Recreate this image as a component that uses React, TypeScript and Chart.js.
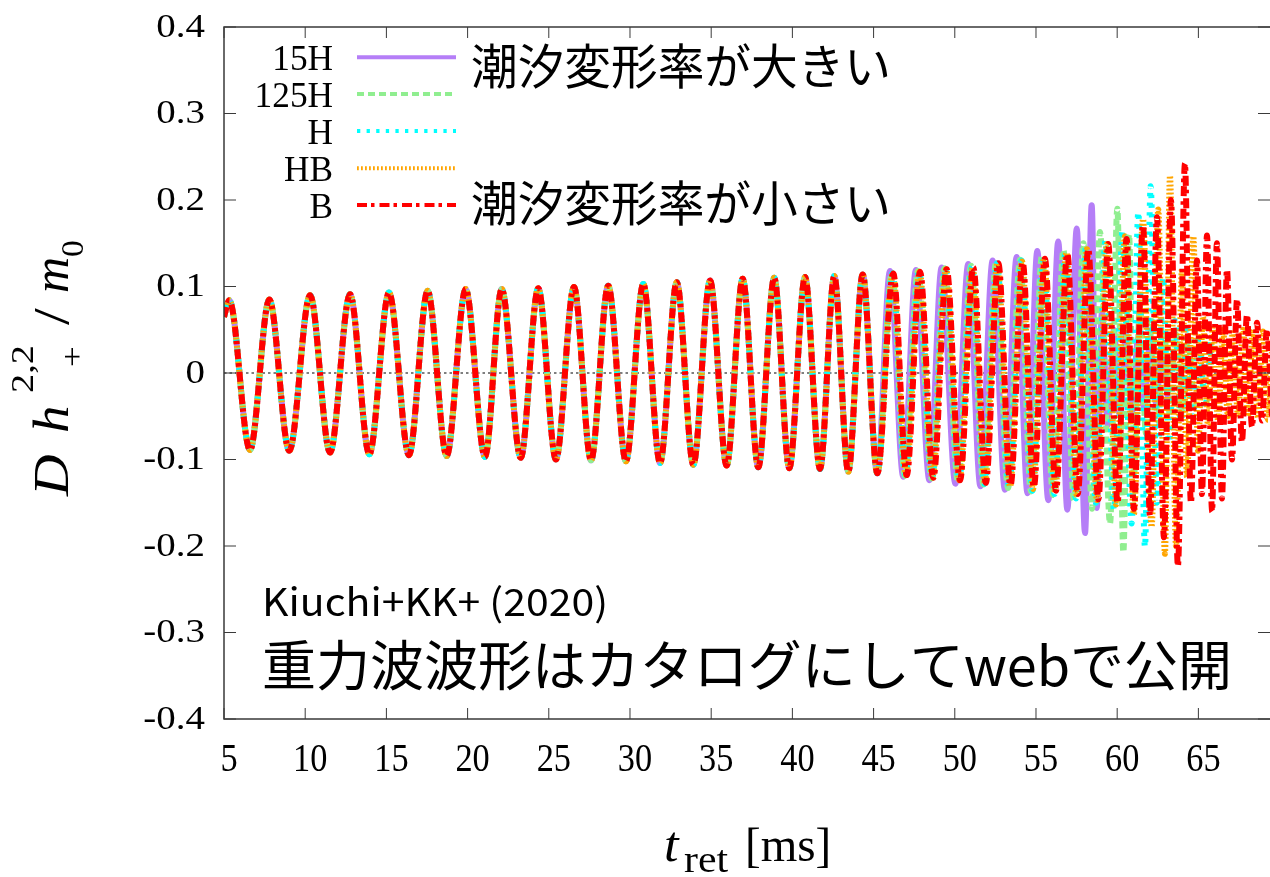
import React, { useEffect, useRef } from "react";
import { Chart, registerables } from "chart.js";

Chart.register(...registerables);

// Retarded time [ms] and strain of each extremum during the common inspiral (all models overlap)
const inspiralT = [5.0, 5.33, 6.6, 7.79, 9.02, 10.3, 11.53, 12.76, 13.95, 15.16, 16.39, 17.54, 18.71, 19.88, 21.07, 22.1, 23.27, 24.35, 25.44, 26.55, 27.6, 28.66, 29.75, 30.82, 31.85, 32.88, 33.9, 34.93, 35.95, 36.94, 37.9, 38.88, 39.81, 40.78, 41.7, 42.58, 43.44, 44.33, 45.23];
const inspiralH = [0.065, 0.084, -0.089, 0.085, -0.09, 0.09, -0.092, 0.091, -0.094, 0.093, -0.095, 0.095, -0.096, 0.097, -0.097, 0.097, -0.098, 0.098, -0.1, 0.0995, -0.101, 0.101, -0.102, 0.103, -0.104, 0.105, -0.106, 0.107, -0.107, 0.109, -0.109, 0.11, -0.11, 0.111, -0.111, 0.112, -0.114, 0.114, -0.116];

// Late inspiral, merger and post-merger extrema of each model
const tail15HT = [46.01, 46.83, 47.61, 48.44, 49.19, 50.04, 50.83, 51.58, 52.33, 53.09, 53.81, 54.48, 55.08, 55.76, 56.37, 56.93, 57.51, 58.02, 58.43, 58.74, 59.06, 59.43, 59.8, 60.17, 60.54, 60.91, 61.28, 61.65, 62.02, 62.39, 62.76, 63.13];
const tail15HH = [0.118, -0.12, 0.119, -0.124, 0.122, -0.128, 0.126, -0.131, 0.13, -0.135, 0.134, -0.139, 0.141, -0.147, 0.152, -0.158, 0.167, -0.185, 0.194, -0.156, 0.07, -0.06, 0.05, -0.05, 0.045, -0.045, 0.04, -0.04, 0.035, -0.035, 0.03, -0.03];

const tail125HT = [46.13, 46.93, 47.73, 48.57, 49.37, 50.2, 51.0, 51.77, 52.54, 53.28, 54.02, 54.69, 55.37, 56.05, 56.69, 57.34, 57.92, 58.45, 58.94, 59.56, 60.01, 60.38, 60.73, 61.03, 61.4, 61.77, 62.14, 62.51, 62.88, 63.25, 63.62, 63.99, 64.36, 64.73];
const tail125HH = [0.116, -0.119, 0.118, -0.122, 0.121, -0.126, 0.124, -0.129, 0.128, -0.133, 0.131, -0.137, 0.136, -0.141, 0.142, -0.147, 0.15, -0.157, 0.163, -0.174, 0.19, -0.207, 0.16, -0.12, 0.08, -0.07, 0.06, -0.055, 0.05, -0.05, 0.045, -0.045, 0.04, -0.04];

const tailHT = [46.16, 46.96, 47.8, 48.6, 49.43, 50.26, 51.06, 51.83, 52.6, 53.34, 54.11, 54.78, 55.46, 56.14, 56.82, 57.46, 58.08, 58.69, 59.28, 59.8, 60.33, 60.89, 61.3, 61.71, 62.06, 62.45, 62.82, 63.19, 63.56, 63.93, 64.3, 64.67, 65.04, 65.41, 65.78];
const tailHH = [0.115, -0.118, 0.117, -0.121, 0.12, -0.125, 0.123, -0.128, 0.127, -0.132, 0.13, -0.136, 0.134, -0.14, 0.14, -0.145, 0.145, -0.15, 0.153, -0.158, 0.165, -0.174, 0.186, -0.201, 0.216, -0.15, 0.11, -0.08, 0.06, -0.055, 0.05, -0.05, 0.045, -0.04, 0.04];

const tailHBT = [46.19, 47.0, 47.83, 48.63, 49.46, 50.29, 51.09, 51.86, 52.63, 53.4, 54.14, 54.82, 55.49, 56.17, 56.87, 57.52, 58.14, 58.76, 59.37, 59.93, 60.48, 61.03, 61.59, 62.12, 62.53, 62.94, 63.25, 63.62, 63.99, 64.3, 64.69, 64.98, 65.28, 65.59, 65.9, 66.21, 66.52, 66.82, 67.13, 67.44, 67.75, 68.05, 68.36, 68.67, 68.98, 69.29, 69.59];
const tailHBH = [0.115, -0.118, 0.117, -0.121, 0.12, -0.124, 0.122, -0.127, 0.127, -0.131, 0.129, -0.134, 0.133, -0.138, 0.139, -0.142, 0.143, -0.147, 0.149, -0.152, 0.158, -0.163, 0.178, -0.178, 0.189, -0.209, 0.228, -0.2, 0.12, -0.12, 0.158, -0.09, 0.065, -0.06, 0.055, -0.055, 0.05, -0.05, 0.05, -0.05, 0.05, -0.05, 0.05, -0.052, 0.048, -0.054, 0.05];

const tailBT = [46.21, 47.04, 47.86, 48.68, 49.5, 50.32, 51.14, 51.91, 52.68, 53.43, 54.18, 54.87, 55.55, 56.23, 56.93, 57.57, 58.22, 58.84, 59.45, 60.02, 60.58, 61.03, 61.59, 62.02, 62.45, 62.88, 63.31, 63.74, 64.17, 64.54, 64.91, 65.22, 65.53, 65.84, 66.14, 66.45, 66.76, 67.07, 67.38, 67.68, 67.99, 68.3, 68.61, 68.92, 69.22, 69.53];
const tailBH = [0.115, -0.118, 0.117, -0.121, 0.12, -0.124, 0.122, -0.127, 0.127, -0.13, 0.128, -0.132, 0.132, -0.136, 0.138, -0.14, 0.143, -0.146, 0.149, -0.15, 0.155, -0.157, 0.171, -0.165, 0.18, -0.19, 0.2, -0.223, 0.242, -0.15, 0.13, -0.14, 0.159, -0.16, 0.15, -0.145, 0.12, -0.1, 0.085, -0.08, 0.067, -0.062, 0.058, -0.055, 0.05, -0.05];

const seriesNames = ["15H", "125H", "H", "HB", "B"];
const seriesColors = ["rgb(181,126,247)", "rgb(144,238,144)", "rgb(0,255,255)", "rgb(255,165,0)", "rgb(255,0,0)"];
const seriesDashes: number[][] = [[], [7, 4], [3.3, 6.3], [1.8, 2.2], [10, 4, 3.5, 5]];
const seriesTails = [
  [tail15HT, tail15HH],
  [tail125HT, tail125HH],
  [tailHT, tailHH],
  [tailHBT, tailHBH],
  [tailBT, tailBH],
];

const xTicks = [5, 10, 15, 20, 25, 30, 35, 40, 45, 50, 55, 60, 65];
const yTicks = [0.4, 0.3, 0.2, 0.1, 0, -0.1, -0.2, -0.3, -0.4];
const yTickLabels = ["0.4", "0.3", "0.2", "0.1", "0", "-0.1", "-0.2", "-0.3", "-0.4"];
const xRange = [5, 69.41];
const yRange = [-0.4, 0.4];

const noteLarge = "潮汐変形率が大きい";
const noteSmall = "潮汐変形率が小さい";
const citation = "Kiuchi+KK+ (2020)";
const catalogNote = "重力波波形はカタログにしてwebで公開";

const SERIF = "'Liberation Serif', 'Times New Roman', serif";
const JP = "'Noto Sans CJK JP', 'Noto Sans', sans-serif";

function putText(
  ctx: CanvasRenderingContext2D,
  text: string,
  x: number,
  y: number,
  font: string,
  sx: number,
  align: CanvasTextAlign,
  baseline: CanvasTextBaseline
) {
  ctx.save();
  ctx.font = font;
  ctx.textAlign = align;
  ctx.textBaseline = baseline;
  ctx.translate(x, y);
  ctx.scale(sx, 1);
  ctx.fillText(text, 0, 0);
  ctx.restore();
}

function fitText(ctx: CanvasRenderingContext2D, text: string, left: number, y: number, width: number, font: string) {
  ctx.save();
  ctx.font = font;
  ctx.textAlign = "left";
  ctx.textBaseline = "middle";
  const w = ctx.measureText(text).width;
  ctx.translate(left, y);
  ctx.scale(width / w, 1);
  ctx.fillText(text, 0, 0);
  ctx.restore();
}

function drawYTitle(ctx: CanvasRenderingContext2D) {
  const it = `italic 50px ${SERIF}`;
  const up = `50px ${SERIF}`;
  const small = `32px ${SERIF}`;
  ctx.save();
  ctx.translate(68, 369);
  ctx.rotate(-Math.PI / 2);
  ctx.fillStyle = "#000";
  putText(ctx, "D", -127, 0, it, 1.15, "left", "alphabetic");
  putText(ctx, "h", -64, 0, it, 1.1, "left", "alphabetic");
  putText(ctx, "2,2", -24, -35, small, 1.2, "left", "alphabetic");
  putText(ctx, "+", 2, 15, small, 1.15, "left", "alphabetic");
  putText(ctx, "/", 44, 0, up, 1.2, "left", "alphabetic");
  putText(ctx, "m", 76, 0, it, 1.0, "left", "alphabetic");
  putText(ctx, "0", 112, 15, small, 1.05, "left", "alphabetic");
  ctx.restore();
}

const framePlugin = {
  id: "frame",
  beforeDatasetsDraw(chart: any) {
    const { ctx, chartArea: a, scales } = chart;
    const y0 = scales.y.getPixelForValue(0);
    ctx.save();
    ctx.strokeStyle = "#000";
    ctx.lineWidth = 1.2;
    ctx.setLineDash([2.5, 3]);
    ctx.beginPath();
    ctx.moveTo(a.left, y0);
    ctx.lineTo(a.right, y0);
    ctx.stroke();
    ctx.restore();
  },
  afterDatasetsDraw(chart: any) {
    const { ctx, chartArea: a } = chart;
    const xs = chart.scales.x;
    const ys = chart.scales.y;
    ctx.save();
    ctx.setLineDash([]);

    // plot border (right side lies beyond the canvas)
    ctx.strokeStyle = "#3a3a3a";
    ctx.lineWidth = 1.5;
    ctx.beginPath();
    ctx.moveTo(a.right + 2, a.top);
    ctx.lineTo(a.left, a.top);
    ctx.lineTo(a.left, a.bottom);
    ctx.lineTo(a.right + 2, a.bottom);
    ctx.stroke();

    // inward ticks on all sides
    ctx.lineWidth = 1;
    ctx.beginPath();
    xTicks.forEach((v) => {
      const px = xs.getPixelForValue(v);
      ctx.moveTo(px, a.bottom);
      ctx.lineTo(px, a.bottom - 11);
      ctx.moveTo(px, a.top);
      ctx.lineTo(px, a.top + 11);
    });
    yTicks.forEach((v) => {
      const py = ys.getPixelForValue(v);
      ctx.moveTo(a.left, py);
      ctx.lineTo(a.left + 12, py);
      ctx.moveTo(a.right, py);
      ctx.lineTo(a.right - 12, py);
    });
    ctx.stroke();

    // tick labels
    ctx.fillStyle = "#000";
    yTicks.forEach((v, i) => {
      putText(ctx, yTickLabels[i], 205, ys.getPixelForValue(v) + 1, `33px ${SERIF}`, 1.18, "right", "middle");
    });
    xTicks.forEach((v) => {
      putText(ctx, String(v), xs.getPixelForValue(v) + 5, 771, `39px ${SERIF}`, 0.88, "center", "alphabetic");
    });

    // axis titles
    putText(ctx, "t", 664, 861, `italic 50px ${SERIF}`, 1.05, "left", "alphabetic");
    putText(ctx, "ret", 684, 872, `38px ${SERIF}`, 1.1, "left", "alphabetic");
    putText(ctx, "[ms]", 745, 861, `49px ${SERIF}`, 0.96, "left", "alphabetic");
    drawYTitle(ctx);

    // legend: label right-aligned, then a line sample in the dataset style
    const rows = [57.3, 94, 131, 168.3, 205];
    chart.data.datasets.forEach((ds: any, i: number) => {
      const ry = rows[i];
      putText(ctx, ds.label, 333, ry + 12.5, `36px ${SERIF}`, 0.98, "right", "alphabetic");
      ctx.save();
      ctx.strokeStyle = ds.borderColor;
      ctx.lineWidth = 4;
      ctx.setLineDash(ds.borderDash);
      ctx.beginPath();
      ctx.moveTo(357, ry);
      ctx.lineTo(456, ry);
      ctx.stroke();
      ctx.restore();
    });

    // annotations
    ctx.fillStyle = "#000";
    fitText(ctx, noteLarge, 471, 66, 420, `48px ${JP}`);
    fitText(ctx, noteSmall, 471, 203, 420, `48px ${JP}`);
    fitText(ctx, citation, 262, 602, 346, `38px ${JP}`);
    fitText(ctx, catalogNote, 262, 665, 970, `54px ${JP}`);

    ctx.restore();
  },
};

function buildDatasets() {
  return seriesNames.map((name, i) => {
    const ts = [...inspiralT, ...seriesTails[i][0]];
    const hs = [...inspiralH, ...seriesTails[i][1]];
    return {
      label: name,
      data: ts.map((t, k) => ({ x: t, y: hs[k] })),
      borderColor: seriesColors[i],
      backgroundColor: seriesColors[i],
      borderWidth: 6,
      borderDash: seriesDashes[i],
      pointRadius: 0,
      cubicInterpolationMode: "monotone" as const,
      fill: false,
      order: seriesNames.length - i,
    };
  });
}

export default function App() {
  const ref = useRef<HTMLCanvasElement>(null);

  useEffect(() => {
    const canvas = ref.current;
    if (!canvas) return;
    const chart = new Chart(canvas, {
      type: "line",
      data: { datasets: buildDatasets() as any },
      options: {
        animation: false,
        responsive: false,
        devicePixelRatio: 1,
        events: [],
        layout: { padding: { left: 224, top: 27, right: 0, bottom: 158 } },
        scales: {
          x: { type: "linear", min: xRange[0], max: xRange[1], display: false },
          y: { type: "linear", min: yRange[0], max: yRange[1], display: false },
        },
        plugins: { legend: { display: false }, tooltip: { enabled: false } },
      },
      plugins: [framePlugin],
    });
    let alive = true;
    const fonts = (document as any).fonts;
    if (fonts && fonts.load) {
      Promise.all([
        fonts.load(`36px 'Liberation Serif'`),
        fonts.load(`italic 36px 'Liberation Serif'`),
        fonts.load(`48px 'Noto Sans CJK JP'`, noteLarge + noteSmall + catalogNote + citation),
      ])
        .then(() => {
          if (alive) chart.draw();
        })
        .catch(() => {});
    }
    return () => {
      alive = false;
      chart.destroy();
    };
  }, []);

  return (
    <div
      style={{
        position: "absolute",
        left: 0,
        top: 0,
        width: 1270,
        height: 877,
        overflow: "hidden",
        background: "#fff",
      }}
    >
      <canvas ref={ref} width={1270} height={877} style={{ display: "block", width: 1270, height: 877 }} />
    </div>
  );
}
